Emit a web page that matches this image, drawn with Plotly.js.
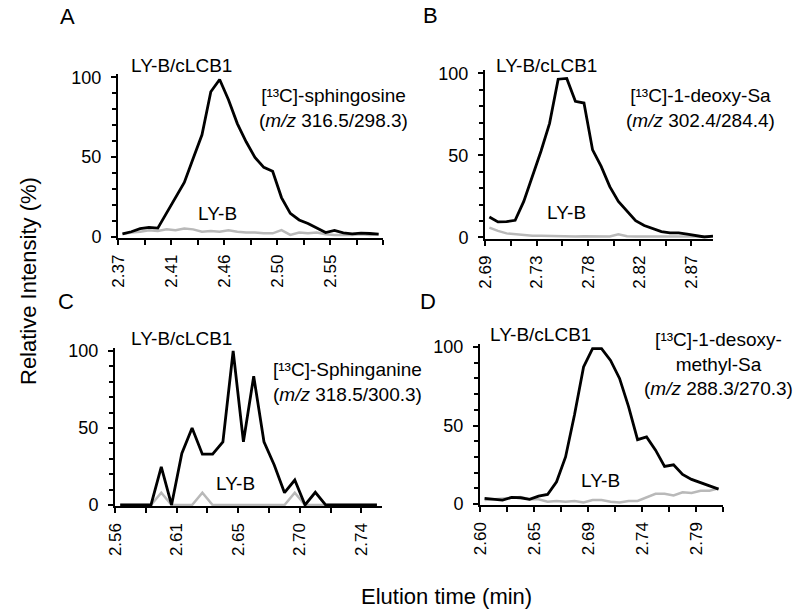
<!DOCTYPE html>
<html><head><meta charset="utf-8">
<script src="https://cdn.plot.ly/plotly-3.0.1.min.js"></script>
<style>html,body{margin:0;padding:0;background:#fff}#chart{width:800px;height:615px}</style>
</head><body><div id="chart"></div>
<script>
// ---------- Panel A: [13C]-sphingosine ----------
const timeA = [2.3738,2.3813,2.3888,2.3963,2.4038,2.4113,2.4188,2.4263,2.4338,2.4413,
               2.4488,2.4563,2.4638,2.4713,2.4788,2.4863,2.4938,2.5013,2.5088,2.5163,
               2.5238,2.5313,2.5388,2.5463,2.5538,2.5613,2.5688,2.5763,2.5838,2.5913];
const cLCB1_A = [1.7,3.0,4.9,5.7,5.3,15,24.5,34,49,64,
                 91,98.7,86,71,59.6,49.7,43.5,41,24.5,14.6,
                 10.4,8.2,5.3,2.5,3.8,2.3,1.7,2.1,1.9,1.5];
const lyb_A   = [1.5,2.5,3,4,3.5,4.5,4,5,4.5,3,
                 3.5,3,4,3,2.5,2.5,2,2,4,1,
                 2.5,2,2.5,1.5,1,1,1,1.5,1,1.5];
const labelValsA = [2.37,2.415,2.46,2.505,2.55];
const labelTextA = ['2.37','2.41','2.46','2.50','2.55'];
const minorValsA = [2.3925,2.4375,2.4825,2.5275,2.5725,2.595];
const rangeA = [2.37, 2.595];

// ---------- Panel B: [13C]-1-deoxy-Sa ----------
const timeB = [2.6938,2.7013,2.7088,2.7163,2.7238,2.7313,2.7388,2.7463,2.7538,2.7613,
               2.7688,2.7763,2.7838,2.7913,2.7988,2.8063,2.8138,2.8213,2.8288,2.8363,
               2.8438,2.8513,2.8588,2.8663,2.8738,2.8813,2.8888];
const cLCB1_B = [12.5,9.5,9.7,10.5,22,37,52.6,69.6,96.5,97,
                 83,82,53.4,43.3,31,22,16,10.3,7.3,5.3,
                 3.6,2.8,2.8,2,1.2,0.3,0.8];
const lyb_B   = [6,4,2.5,2,1.5,1,1,0.8,0.8,0.6,
                 0.6,0.8,0.6,0.6,0.6,2,0.8,0.6,0.8,0.6,
                 0.6,0.6,0.6,0.6,0.6,0.6,0.6];
const labelValsB = [2.69,2.735,2.78,2.825,2.87];
const labelTextB = ['2.69','2.73','2.78','2.82','2.87'];
const minorValsB = [2.7125,2.7575,2.8025,2.8475];
const rangeB = [2.69, 2.8888];

// ---------- Panel C: [13C]-Sphinganine ----------
const timeC = [2.5638,2.5713,2.5788,2.5863,2.5938,2.6013,2.6088,2.6163,2.6238,2.6313,
               2.6388,2.6463,2.6538,2.6613,2.6688,2.6763,2.6838,2.6913,2.6988,2.7063,
               2.7138,2.7213,2.7288,2.7363,2.7438,2.7513];
const cLCB1_C = [0,0,0,0,24.8,0,33.5,50,33,33,
                 41,100,41,83.6,41,26,8,16.2,0,8.2,
                 0,0,0,0,0,0];
const lyb_C   = [0,0,0,0,8,0,0,0,8,0,
                 0,0,0,0,0,0,0,8,0,0,
                 0,0,0,0,0,0];
const labelValsC = [2.56,2.605,2.65,2.695,2.74];
const labelTextC = ['2.56','2.61','2.65','2.70','2.74'];
const minorValsC = [2.5825,2.6275,2.6725,2.7175];
const rangeC = [2.56, 2.755];

// ---------- Panel D: [13C]-1-desoxymethyl-Sa ----------
const timeD = [2.6040,2.6119,2.6198,2.6277,2.6356,2.6435,2.6514,2.6593,2.6672,2.6751,
               2.6830,2.6909,2.6988,2.7067,2.7146,2.7225,2.7304,2.7383,2.7462,2.7541,
               2.7620,2.7699,2.7778,2.7857,2.7936,2.8015,2.8094];
const cLCB1_D = [3.6,3.2,2.5,4.2,4,3,5,6.1,14.2,30,
                 57,87.3,99,99,91.5,80,62,41,42.8,34.3,
                 24,25,18.9,15.7,13.8,11.9,9.5];
const lyb_D   = [2.5,3,3.5,4.2,4.5,3,3,1.5,2,1.5,
                 2,1,2.5,2.5,1.5,1,2,2,4.5,6.5,
                 6.5,5.5,7.5,7,8.5,8.5,10];
const labelValsD = [2.60,2.6474,2.6948,2.7422,2.7896];
const labelTextD = ['2.60','2.65','2.69','2.74','2.79'];
const minorValsD = [2.6237,2.6711,2.7185,2.7659,2.8133];
const rangeD = [2.60, 2.8133];

// ---------- shared y ticks ----------
const yLabelVals = [0,50,100];
const yLabelText = ['0','50','100'];
const yMinorVals = [10,20,30,40,60,70,80,90];

const FONT = 'Liberation Sans, Arial, Helvetica, sans-serif';
const BLACK = '#000000';
const GREY = '#b9b9b9';

function tr(x, y, color, w, xa, ya) {
  return {x: x, y: y, type: 'scatter', mode: 'lines',
          line: {color: color, width: w}, xaxis: xa, yaxis: ya,
          hoverinfo: 'skip', showlegend: false};
}

const data = [
  tr(timeA, lyb_A, GREY, 2.5, 'x', 'y'),   tr(timeA, cLCB1_A, BLACK, 2.8, 'x', 'y'),
  tr(timeB, lyb_B, GREY, 2.5, 'x2', 'y2'), tr(timeB, cLCB1_B, BLACK, 2.8, 'x2', 'y2'),
  tr(timeC, lyb_C, GREY, 2.5, 'x3', 'y3'), tr(timeC, cLCB1_C, BLACK, 2.8, 'x3', 'y3'),
  tr(timeD, lyb_D, GREY, 2.5, 'x4', 'y4'), tr(timeD, cLCB1_D, BLACK, 2.8, 'x4', 'y4')
];

function xAxis(domain, range, vals, text, minorVals, anchor) {
  return {domain: domain, range: range, anchor: anchor, type: 'linear',
          tickmode: 'array', tickvals: vals, ticktext: text, tickangle: -90,
          ticks: 'outside', ticklen: 5, tickwidth: 2, tickcolor: BLACK,
          minor: {tickmode: 'array', tickvals: minorVals, ticks: 'outside',
                  ticklen: 5, tickwidth: 2, tickcolor: BLACK, showgrid: false},
          showline: true, linecolor: BLACK, linewidth: 2,
          showgrid: false, zeroline: false, fixedrange: true,
          ticklabelstandoff: 3,
          tickfont: {family: FONT, size: 17, color: BLACK}};
}
function yAxis(domain, anchor) {
  return {domain: domain, range: [-0.8, 102], anchor: anchor,
          tickmode: 'array', tickvals: yLabelVals, ticktext: yLabelText,
          ticks: 'outside', ticklen: 5, tickwidth: 2, tickcolor: BLACK,
          minor: {tickmode: 'array', tickvals: yMinorVals, ticks: 'outside',
                  ticklen: 4, tickwidth: 2, tickcolor: BLACK, showgrid: false},
          showline: true, linecolor: BLACK, linewidth: 2,
          showgrid: false, zeroline: false, fixedrange: true,
          ticklabelstandoff: 6,
          tickfont: {family: FONT, size: 18, color: BLACK}};
}

const W = 800, H = 615;
function px(x) { return x / W; }
function py(y) { return 1 - y / H; }

function ann(text, x, y, size, extra) {
  return Object.assign({text: text, x: px(x), y: py(y), xref: 'paper', yref: 'paper',
    xanchor: 'center', yanchor: 'middle', showarrow: false, align: 'center',
    font: {family: FONT, size: size, color: BLACK}}, extra || {});
}

const layout = {
  width: W, height: H,
  margin: {l: 0, r: 0, t: 0, b: 0},
  paper_bgcolor: '#ffffff', plot_bgcolor: '#ffffff',
  showlegend: false,
  xaxis:  xAxis([px(118), px(383)], rangeA, labelValsA, labelTextA, minorValsA, 'y'),
  yaxis:  yAxis([py(237.8), py(74.3)], 'x'),
  xaxis2: xAxis([px(485), px(713)], rangeB, labelValsB, labelTextB, minorValsB, 'y2'),
  yaxis2: yAxis([py(238.8), py(70.2)], 'x2'),
  xaxis3: xAxis([px(115), px(382)], rangeC, labelValsC, labelTextC, minorValsC, 'y3'),
  yaxis3: yAxis([py(506.2), py(347.9)], 'x3'),
  xaxis4: xAxis([px(480), px(723)], rangeD, labelValsD, labelTextD, minorValsD, 'y4'),
  yaxis4: yAxis([py(505.3), py(343.9)], 'x4'),
  annotations: [
    ann('A', 67, 17, 22), ann('B', 430, 16, 22),
    ann('C', 66, 302, 22), ann('D', 428, 302, 22),
    ann('LY-B/cLCB1', 181, 66, 19), ann('LY-B/cLCB1', 546, 66, 19),
    ann('LY-B/cLCB1', 181, 338, 19), ann('LY-B/cLCB1', 540, 334, 19),
    ann('LY-B', 217, 214, 19), ann('LY-B', 566, 212, 19),
    ann('LY-B', 235, 483, 19), ann('LY-B', 600, 480, 19),
    ann('[¹³C]-sphingosine<br>(<i>m/z</i> 316.5/298.3)', 333, 107.5, 19),
    ann('[¹³C]-1-deoxy-Sa<br>(<i>m/z</i> 302.4/284.4)', 700, 107.5, 19),
    ann('[¹³C]-Sphinganine<br>(<i>m/z</i> 318.5/300.3)', 347, 382, 19),
    ann('[¹³C]-1-desoxy-<br>methyl-Sa<br>(<i>m/z</i> 288.3/270.3)', 718, 364, 19),
    ann('Relative Intensity (%)', 28, 281, 22, {textangle: -90}),
    ann('Elution time (min)', 446, 596, 22)
  ]
};

// remove the empty placeholder <text> nodes (axis titles) that Plotly leaves behind
function dropEmptyTexts() {
  document.querySelectorAll('#chart text').forEach(function (t) {
    if (!t.textContent.trim()) t.remove();
  });
}

Plotly.newPlot('chart', data, layout, {displayModeBar: false, staticPlot: true}).then(function () {
  dropEmptyTexts();
  setTimeout(dropEmptyTexts, 0);
  setTimeout(dropEmptyTexts, 100);
});
</script></body></html>
